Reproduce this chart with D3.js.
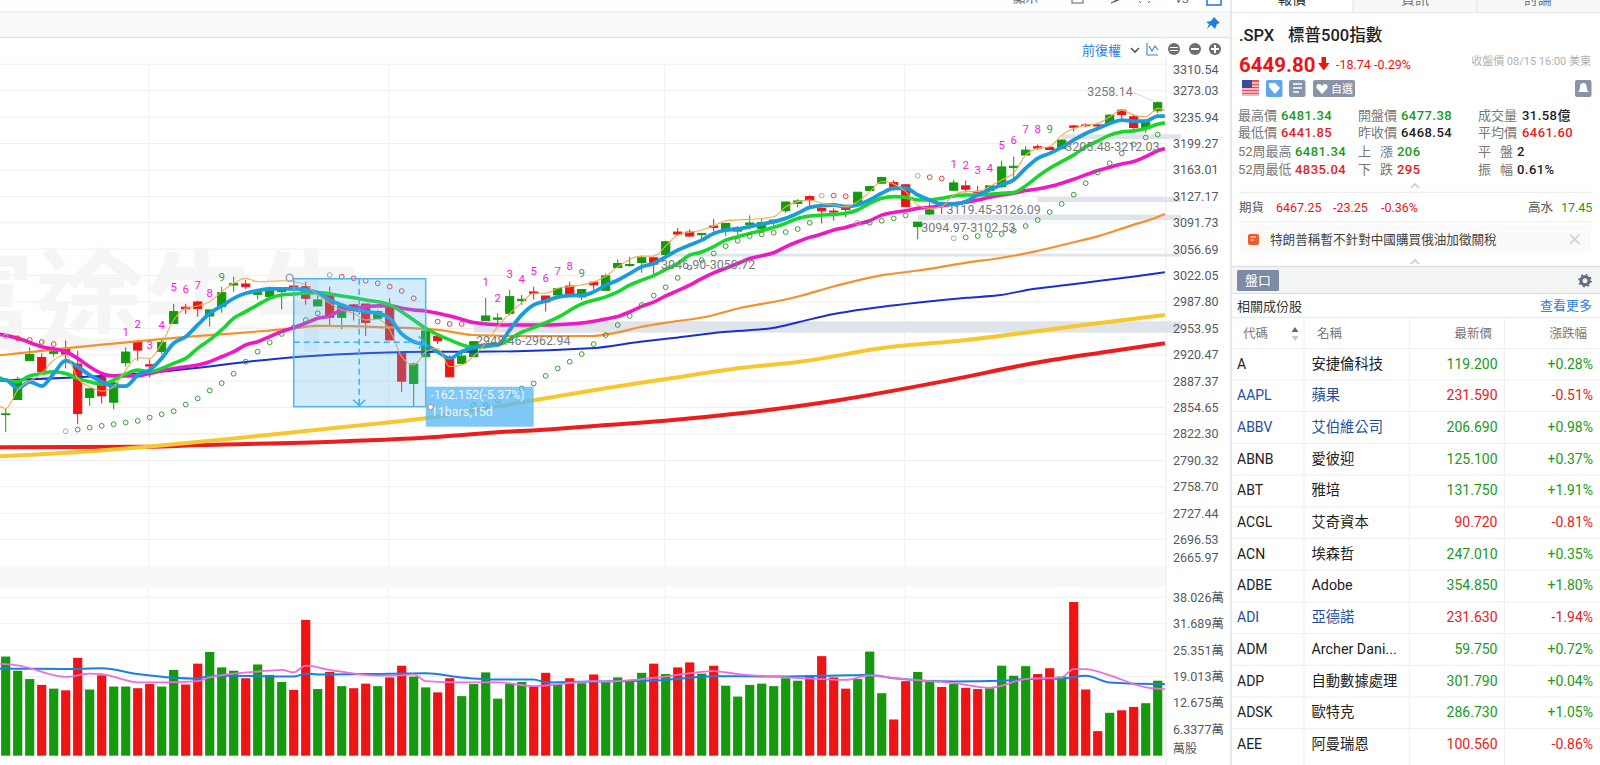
<!DOCTYPE html>
<html>
<head>
<meta charset="utf-8">
<script src="https://cdn.jsdelivr.net/npm/d3@7"></script>
<style>
  html, body { margin: 0; padding: 0; background: #fff; overflow: hidden; }
  text { font-family: Roboto, "Noto Sans CJK TC", sans-serif; }
</style>
</head>
<body>
<svg id="chart" width="1600" height="765"></svg>
<script>
// daily candles, oldest first
const opens = [2846.1,2864.6,2913,2917.1,2922.2,2928.6,2908.8,2867.1,2892,2861.3,2910.4,2936.2,2907.9,2924.7,2960,2981,2987.8,2969.8,2981.8,3009.7,3011,2997.6,2994.7,3001.1,3008.4,3007.6,2982.7,2998.1,2968.1,2984,2985.2,2966.8,2981,2922.2,2884.5,2918,2943.4,2915.9,2909.6,2918,2963.8,2965.5,2973.2,2989.5,3000.7,2995.5,2996.8,3008.4,2994.3,3013.3,3002.9,3032.5,3035.2,3039.1,3045.3,3049.7,3079.3,3079.3,3075.7,3087.3,3082,3080.6,3089,3083.7,3091.7,3107.7,3117.7,3126.8,3110.9,3107.3,3110.9,3117.7,3134.9,3144.9,3145.8,3142.7,3086.8,3103.4,3117.8,3135.4,3141.3,3134,3135,3140.4,3166.2,3183.4,3194.8,3193.9,3192.5,3223.6,3225,3225,3228,3245.7,3236.4,3220,3244.8];
const highs = [2853.5,2892.8,2929.8,2922.2,2929.8,2938.3,2925.6,2877.9,2892,2890.8,2929.8,2939.2,2914.6,2939.2,2985.2,2985.2,2989.5,2977.5,3007.6,3020.5,3016.2,3001.1,3007.6,3005.4,3014,3014,2996.8,3007.6,2985.2,2985.2,2985.2,2977.5,2992.5,2922.2,2910.4,2954,2943.4,2920.1,2927.3,2937,2993,2973.2,3003.3,2996.8,3007.6,2995.5,3005,3014,3003.8,3013.3,3024.6,3043.1,3046.6,3048.4,3045.3,3067.8,3084.6,3082.8,3077.5,3097,3090.8,3087.3,3101.6,3097,3096.2,3119.5,3123.2,3128.6,3112.3,3110.9,3112.3,3132.7,3141.2,3154,3149.4,3144,3092.6,3120,3120,3149.4,3148.5,3141.3,3141.3,3175.7,3181.2,3195.7,3198,3195.7,3204.9,3225,3227.3,3226.4,3239.6,3247.1,3239.6,3232.7,3258.14];
const lows = [2824.8,2864.6,2913,2897,2918,2903.3,2834.2,2856.4,2859.7,2852.6,2905.4,2913,2892,2921.3,2960,2972.4,2969,2956.1,2974.1,3001.1,3004.1,2991.2,2994.7,2978.3,2999.8,2984,2982.7,2956.1,2952.7,2963.8,2944.2,2966.8,2939.2,2874.2,2856.4,2918,2934.1,2892.8,2909.6,2918,2963.8,2959.6,2970.7,2984,2991.2,2975.4,2996.8,2998.1,2990,3003.8,3002.9,3032.5,3033.4,3025.5,3021.1,3049.7,3074,3073.1,3069.5,3080.2,3074,3074.9,3082.8,3083.7,3083.7,3105,3112.3,3112.3,3090.8,3094.4,3098.8,3116.8,3133.5,3144.9,3135,3113.3,3069.5,3102,3103.4,3135.4,3132.2,3129,3135,3138.1,3151.7,3183.4,3190.2,3190.2,3192.5,3215.8,3221.8,3219,3227.1,3232.7,3217.2,3214,3241];
const closes = [2846.9,2887.4,2920.9,2899.6,2924.3,2921.4,2847.3,2877.9,2869.2,2885.3,2923.9,2926.4,2906.3,2936.2,2975.4,2979.2,2979.2,2977.5,2999.8,3011.5,3007.6,2999.8,3003.3,3003.3,3006.7,2992.5,2990.4,2968.1,2982.7,2976.7,2961.3,2975.4,2939.2,2887.4,2908.8,2950.6,2938.3,2892.8,2918.8,2937,2969.8,2967.2,2994.7,2991.2,2999,2987.8,3005,2998.1,3003.8,3009.9,3021.6,3037.8,3036.5,3045.3,3037,3066.4,3076.6,3074,3077.5,3085.5,3090.8,3085.1,3091.3,3092.1,3095.3,3119.5,3120.9,3122.2,3107.7,3106,3109.5,3132.7,3140.3,3152.6,3140.4,3113.3,3092.6,3108.8,3113.3,3145.3,3136.8,3132.2,3141.3,3167.1,3168,3190.2,3193,3191.1,3204,3221.8,3224,3223.6,3238.7,3239.6,3221.4,3228.5,3256.1];
// volume in 萬股
const volumes = [23.8,20.4,18.4,17,16.1,15.7,23.5,15.9,19.3,16.6,16.6,16.2,17.2,16.6,20.6,17.1,22.1,24.9,21.2,20.4,18.6,21.9,19.4,17.7,15.8,32.6,16,20.1,16.7,16.2,17.3,16.7,18.8,21.6,19,16.4,15.2,18.6,14.3,17.2,20,13.7,17.2,17.7,16.6,19.9,17.1,18.6,17.4,19.5,17.7,18.8,18,19.9,22.1,19.6,21.2,22.4,19.7,21.6,16.8,14.2,17,17.3,16.7,18.6,18,19.3,23.9,18.8,16.1,18.4,25,15,8.7,17.9,20.1,18.2,16.5,17.2,16.3,16,16.2,21.6,19.2,21.5,19.6,21,19,36.9,15.9,5.9,10.3,10.9,11.7,12.6,18];

// moving averages as [bar, price] readings
const maThin = [[-1,2861.7],[0,2853.5],[1,2876.2],[3,2897],[4,2913.8],[5,2920.1],[6,2890.8],[7,2880.4],[8,2875],[9,2880.4],[10,2901.2],[11,2916.7],[12,2915.9],[13,2935],[14,2964.6],[15,2979.6],[16,2982.7],[17,2988.2],[18,3001.1],[19,3011.9],[20,3018.4],[21,3014],[23,3015.3],[24,3014],[25,3009.7],[26,2996.8],[27,2986],[28,2977.5],[29,2973.2],[30,2964.6],[31,2965.5],[32,2951.9],[33,2918],[34,2907.5],[35,2924.3],[36,2928.6],[37,2905.4],[38,2907.5],[39,2918.8],[40,2935],[41,2956.1],[42,2973.2],[43,2987],[44,2999],[45,2999],[46,3005.4],[47,3007.6],[48,3009.7],[49,3013.8],[50,3021.1],[51,3033.4],[53,3047.5],[54,3047.5],[55,3060.7],[56,3075.3],[58,3082],[59,3087.3],[60,3094.4],[62,3096.2],[64,3099.8],[65,3113.2],[66,3120],[67,3122.2],[68,3117.7],[69,3115.5],[70,3113.2],[71,3120],[72,3133.5],[73,3147.2],[74,3144],[75,3133.5],[76,3115.5],[77,3111],[78,3113.3],[79,3129],[80,3133.5],[81,3133.5],[82,3140.4],[83,3149.4],[84,3158.5],[85,3183.4],[86,3192.5],[87,3194.8],[88,3210.9],[89,3220],[90,3224.8],[91,3227.1],[92,3236.4],[93,3245.7],[94,3238.7],[95,3236.4],[96,3248.1],[96.6,3245.7]];
const maBlue = [[-1,2888.7],[0,2888.7],[1,2878.3],[2,2886.6],[3,2881.2],[4,2897],[5,2913],[6,2905.4],[7,2894.9],[8,2886.6],[9,2881.2],[10,2881.2],[11,2894.9],[12,2901.2],[13,2915.9],[14,2935],[15,2943.4],[16,2958.3],[17,2973.2],[18,2982.7],[19,2992.5],[20,2999],[21,3002.4],[22,3004.6],[23,3004.6],[24,3004.6],[25,3003.3],[26,2999.8],[27,2990.4],[28,2984],[29,2978.4],[30,2975.4],[31,2973.2],[32,2966.8],[33,2946.8],[34,2937],[35,2932.8],[36,2924.3],[37,2915.9],[38,2924.3],[39,2929.8],[40,2932.8],[41,2933],[42,2951.9],[43,2971.1],[44,2984],[45,2989],[46,2994],[47,2996],[48,2996.4],[49,3000.8],[50,3009.5],[51,3016],[52,3024.6],[53,3033.4],[54,3037.8],[55,3046.6],[56,3055.4],[57,3062],[58,3068.6],[59,3077.5],[60,3082],[61,3083.3],[62,3086.4],[63,3089.9],[64,3093],[65,3097.5],[66,3104.3],[67,3112.3],[68,3114.6],[69,3115.5],[70,3113.2],[71,3115.5],[72,3122.3],[73,3131.3],[74,3138.1],[75,3138.1],[76,3129],[77,3122.3],[78,3116.9],[79,3116.9],[80,3120],[81,3129],[82,3135.9],[83,3142.7],[84,3149.4],[85,3165.3],[86,3178.9],[87,3185.7],[88,3193.9],[89,3204],[90,3213.2],[91,3220],[92,3227.1],[93,3231.8],[94,3230.4],[95,3230.4],[96,3237.3],[96.6,3237.3]];
const maGreen = [[-1,2894.9],[0,2888.7],[1,2886.6],[2,2894],[3,2897],[4,2899.1],[5,2897],[6,2890.8],[7,2886.6],[8,2883.7],[9,2888.7],[10,2896.2],[11,2901.2],[12,2899.1],[13,2903.3],[14,2909.6],[15,2915.9],[16,2928.6],[17,2939.2],[18,2951.9],[19,2966.8],[20,2975.4],[21,2984],[22,2992.5],[23,2996.8],[24,2998.1],[26,2999.8],[28,2995.5],[30,2990.4],[32,2984],[34,2964.6],[35,2954],[37,2939.2],[39,2930],[41,2932.8],[43,2949],[44,2955],[46,2968],[48,2985.2],[49,2990],[50,2994.3],[51,3000.8],[52,3009.5],[53,3016],[54,3022],[55,3030],[56,3037.8],[57,3048.8],[58,3053],[59,3060],[60,3068.6],[61,3073.1],[62,3077.5],[63,3081.1],[64,3085.5],[65,3090.8],[66,3097.5],[67,3100.6],[68,3102],[69,3102.9],[70,3104.3],[71,3108.8],[72,3117.8],[73,3124.5],[74,3126.8],[75,3125.9],[76,3122.3],[77,3122.3],[78,3124.5],[79,3127.7],[80,3129],[81,3129],[82,3129.9],[83,3131.3],[84,3132.2],[85,3141.3],[86,3154],[87,3165.3],[88,3174.4],[89,3183.4],[90,3194.8],[91,3202.5],[92,3210.9],[93,3215.4],[94,3216.8],[95,3220],[96,3226],[96.6,3227.9]];
const maPink = [[-1,2947.6],[1,2941.3],[3,2930.7],[5,2924.3],[6,2915.9],[7,2905.4],[8,2897],[9,2894],[11,2894],[12,2897],[13,2900.4],[14,2903.3],[15,2905.4],[16,2907.5],[17,2911.7],[18,2918],[19,2924.3],[20,2932.8],[21,2937],[22,2943.4],[23,2949.8],[24,2954.9],[25,2960.4],[26,2966.8],[27,2969.8],[28,2977.5],[29,2979.6],[30,2981.8],[31,2982.7],[32,2983.1],[33,2979.6],[34,2977.5],[35,2976.2],[36,2973.2],[37,2969.8],[38,2965.5],[39,2961.3],[40,2959.6],[41,2958.6],[43,2958.2],[45,2958.2],[47,2959.5],[48,2960.8],[49,2963],[50,2966],[51,2969],[52,2975],[53,2982],[54,2987.5],[55,2995.6],[56,3002.3],[57,3009.7],[58,3018.1],[59,3025.5],[60,3031.5],[61,3037.8],[62,3044.4],[63,3047.9],[64,3051.9],[65,3059.8],[66,3066.4],[67,3072.2],[68,3076.6],[69,3082],[70,3085.5],[71,3089.9],[72,3094.4],[73,3101.9],[74,3105.5],[75,3107.8],[76,3110.9],[77,3112.3],[78,3114.6],[79,3116.9],[80,3119.1],[81,3122.3],[82,3125.9],[83,3129],[84,3131.3],[85,3134.9],[86,3137.2],[87,3140.4],[88,3144.9],[89,3150.3],[90,3156.2],[91,3162.1],[92,3166.6],[93,3171.2],[94,3174.4],[95,3181.2],[96,3189.3],[96.6,3192.5]];
const maOrange = [[-1,2919],[12,2939],[24,2954],[26,2957],[31,2955.6],[36.2,2951.8],[38.9,2945.5],[44.5,2944.2],[48.7,2944.2],[50.9,2948.4],[52.9,2955.7],[55.6,2962.4],[58.4,2968.8],[61.2,2980],[64.8,2990.3],[66.2,2995.5],[68.9,3007.5],[73.1,3022.6],[75.9,3028.3],[80.1,3039],[82.9,3045],[85.6,3053],[88.4,3063.5],[91.2,3074.5],[93.9,3088.6],[95.3,3095.3],[96.6,3103.4]];
const maNavy = [[-1,2888],[12,2898],[24.5,2918],[36.2,2924.3],[38.9,2924.3],[48.7,2928.6],[52.9,2937],[55.6,2941.7],[59.8,2949.3],[63.9,2954.4],[66.2,2962.4],[68.9,2971.9],[73.1,2981.7],[75.9,2986.8],[80.1,2993.2],[82.9,2996.7],[85.6,3004.5],[88.4,3009.7],[91.2,3015.3],[93.9,3020.5],[96.6,3026.2]];
const maYellow = [[-1,2795],[7.9,2802.3],[11.8,2806.8],[16.2,2812.9],[21.8,2821],[27.3,2829.5],[35.1,2841.8],[44.5,2864.9],[50.1,2878.9],[55.6,2891.3],[61.2,2903.8],[66.2,2911.7],[73.1,2929],[80.1,2939.2],[85.6,2949.7],[89.8,2958.2],[96.6,2971]];
const maRed = [[-1,2806],[11.8,2806.8],[16.2,2808.8],[27.3,2812.9],[36.2,2818.9],[41.2,2824.6],[44.5,2827],[50.1,2833.2],[55.6,2839.3],[61.2,2847.6],[69.5,2864],[78.7,2888.8],[85.6,2909.7],[91.2,2923],[96.6,2935]];
const volBlue = [[-1,20.9],[0,20.9],[5,20.8],[8,21],[11,19.6],[14,18.7],[16,18.5],[17,19.2],[19,19.2],[24,19],[25,19.7],[26,19.5],[32,19.7],[35,19.8],[38,18.8],[41,18.3],[44,18.3],[45,17.6],[49,17.8],[55,18.2],[59,19.1],[64,19],[72,19.4],[74,18.6],[79,17.8],[83,18],[85,18.4],[88,18.5],[90,19.2],[92,17.6],[96,17.2],[96.6,17.2]];
const volPink = [[-1,22.1],[0,22],[1,21.7],[5,18.9],[7,19.7],[8,19.6],[11,17.6],[13,17.6],[16,17.9],[17,18.8],[22,20.4],[23,20.6],[24,20],[25,21.6],[27,20.6],[31,19.2],[33,19.3],[34,19.5],[35,17.9],[38,17.6],[41,17.6],[44,16.7],[49,17.9],[50,17.8],[55,19],[59,20.3],[61,19.6],[64,19],[68,18.4],[70,18.2],[72,19.3],[74,18.6],[79,17.4],[82,16.3],[85,18.4],[88,18.8],[89,20.8],[90,20.8],[92,19.3],[95,16.4],[96,16.1],[96.6,16]];

// parabolic SAR dots: [bar, price]
const sarGreen = [[6,2827.6],[7,2830],[8,2832.2],[9,2834.2],[10,2836.3],[11,2838.3],[12,2842.4],[13,2846.5],[14,2850.2],[15,2858.4],[16,2865.9],[17,2875.8],[18,2884.9],[19,2896.6],[20,2911.7],[21,2924.3],[22,2936.2],[23,2946.8],[24,2955.3],[25,2964.6],[26,2973.2],[39,2857.6],[40,2857.6],[41,2863.8],[42,2872.1],[43,2878.3],[44,2884.5],[45,2894],[46,2903.3],[47,2911.7],[48,2921.3],[49,2934],[50,2945.4],[51,2958.3],[52,2969.8],[53,2983.8],[54,2996],[55,3006.8],[56,3019],[57,3032.5],[58,3042.2],[59,3051],[60,3060.7],[61,3067.7],[62,3074],[63,3076.2],[64,3078.4],[65,3079.3],[66,3083.3],[67,3091.7],[72,3091.7],[73,3094.4],[74,3097.5],[75,3101.5],[80,3072.2],[81,3074],[82,3075.3],[83,3076.7],[84,3081.1],[85,3087.3],[86,3095.3],[87,3106],[88,3116.9],[89,3129.4],[90,3144.9],[91,3159.4],[92,3172.1],[93,3185.7],[94,3197.9],[95,3207.6],[96,3211.7]];
const sarRed = [[1,2941.3],[2,2939.2],[3,2936.6],[4,2934],[28,3020.5],[29,3018.4],[30,3015.3],[31,3011.9],[32,3007.6],[33,3002],[34,2992.5],[36,2962.6],[37,2959.6],[38,2959.6],[69,3128.1],[70,3127.2],[77,3153.1],[78,3151.3]];
const sarGrey = [[0,2943.4],[5,2825.6],[27,3022.7],[68,3128.1],[71,3091.7],[76,3154.9],[79,3071]];

// TD sequential counts
const tdBars = [10,11,12,13,14,15,16,17,18,40,41,42,43,44,45,46,47,48,79,80,81,82,83,84,85,86,87];
const tdLevels = [2949.8,2959.6,2932.8,2958.3,3006.7,3004.1,3009.7,2999.8,3020.5,3013.1,2992.5,3023.5,3017.5,3027.8,3019.3,3027.8,3034.2,3025.7,3171.2,3169.8,3163,3165.3,3197,3204,3219.1,3219.1,3220];

// support / resistance bands
const bandLows = [3205.48,3119.45,3094.97,3046.90,2948.46];
const bandHighs = [3212.03,3126.09,3102.53,3050.72,2962.94];
const bandFromBars = [88,86,76,54,39];
const bandLabelBars = [88.3,78.4,76.3,54.6,39.2];

const monthBars = [12,32,55,75];
const priceTicks = [3310.54,3273.03,3235.94,3199.27,3163.01,3127.17,3091.73,3056.69,3022.05,2987.80,2953.95,2920.47,2887.37,2854.65,2822.30,2790.32,2758.70,2727.44,2696.53,2665.97];
const volumeTicks = [6.3377,12.675,19.013,25.351,31.689,38.026];

// measure tool
const measureBars = [24,35];
const measureTop = 3017.9;
const measureChange = -162.152;

// right hand table
const stockCodes = ['A','AAPL','ABBV','ABNB','ABT','ACGL','ACN','ADBE','ADI','ADM','ADP','ADSK','AEE'];
const stockNames = ['安捷倫科技','蘋果','艾伯維公司','愛彼迎','雅培','艾奇資本','埃森哲','Adobe','亞德諾','Archer Dani...','自動數據處理','歐特克','阿曼瑞恩'];
const stockPrices = ['119.200','231.590','206.690','125.100','131.750','90.720','247.010','354.850','231.630','59.750','301.790','286.730','100.560'];
const stockChanges = [0.28,-0.51,0.98,0.37,1.91,-0.81,0.35,1.80,-1.94,0.72,0.04,1.05,-0.86];
const stockLinked = ['AAPL','ABBV','ADI'];

const GREEN = '#149a0c', RED = '#ee1414';
const plotRight = 1166;

const svg = d3.select('#chart');

const x = d3.scaleLinear().domain([0, 96]).range([5.7, 1157.7]);
const y = d3.scaleLog().domain([2665.97, 3273.03]).range([566, 90.7]);
const yVol = d3.scaleLinear().domain([0, 38.026]).range([755.7, 597.3]);
const barW = 9.2;

svg.append('defs').append('clipPath').attr('id', 'plot')
  .append('rect').attr('x', 0).attr('y', 38).attr('width', plotRight).attr('height', 727);

// background panels
svg.append('rect').attr('x', 0).attr('y', 12).attr('width', 1231).attr('height', 25).attr('fill', '#f8fafa');
svg.append('line').attr('x1', 0).attr('x2', 1231).attr('y1', 12).attr('y2', 12).attr('stroke', '#e9ecec');
svg.append('line').attr('x1', 0).attr('x2', 1231).attr('y1', 37.5).attr('y2', 37.5).attr('stroke', '#e2e5e6').attr('stroke-width', 1.5);
svg.append('rect').attr('x', 0).attr('y', 566).attr('width', plotRight).attr('height', 21).attr('fill', '#f7f9f9');
svg.append('line').attr('x1', plotRight).attr('x2', plotRight).attr('y1', 38).attr('y2', 765).attr('stroke', '#e8eaea');

const under = svg.append('g').attr('clip-path', 'url(#plot)');

// grid
under.append('g').selectAll('line').data(priceTicks.slice(0, 19)).join('line')
  .attr('x1', 0).attr('x2', plotRight)
  .attr('y1', d => y(d)).attr('y2', d => y(d))
  .attr('stroke', '#eeeeee');
under.append('g').selectAll('line').data(volumeTicks).join('line')
  .attr('x1', 0).attr('x2', plotRight)
  .attr('y1', d => yVol(d)).attr('y2', d => yVol(d))
  .attr('stroke', '#f1f1f1');
under.append('g').selectAll('line').data(monthBars).join('line')
  .attr('x1', d => x(d) - 1).attr('x2', d => x(d) - 1)
  .attr('y1', 64).attr('y2', 566)
  .attr('stroke', '#f0f0f0');
under.append('g').selectAll('line').data(monthBars).join('line')
  .attr('x1', d => x(d) - 1).attr('x2', d => x(d) - 1)
  .attr('y1', 587).attr('y2', 765)
  .attr('stroke', '#f3f3f3');

// watermark
under.append('text').attr('x', -75).attr('y', 342)
  .attr('font-size', 110).attr('font-weight', 700).attr('fill', '#f5f5f5')
  .text('富途牛牛');

// bands run past the plot, over the axis gutter
svg.append('g').selectAll('rect').data(bandLows).join('rect')
  .attr('x', (d, i) => x(bandFromBars[i]))
  .attr('y', (d, i) => y(bandHighs[i]))
  .attr('width', (d, i) => 1181 - x(bandFromBars[i]))
  .attr('height', (d, i) => y(d) - y(bandHighs[i]))
  .attr('fill', '#dfe4ea');

const plot = svg.append('g').attr('clip-path', 'url(#plot)');

// volume
plot.append('g').selectAll('rect').data(volumes).join('rect')
  .attr('x', (d, i) => x(i) - barW / 2)
  .attr('y', d => yVol(d))
  .attr('width', barW)
  .attr('height', d => yVol(0) - yVol(d))
  .attr('fill', (d, i) => closes[i] >= opens[i] ? GREEN : RED);

// candles
const candles = plot.append('g').selectAll('g').data(opens).join('g')
  .attr('stroke', (d, i) => closes[i] >= opens[i] ? GREEN : RED)
  .attr('fill', (d, i) => closes[i] >= opens[i] ? GREEN : RED);
candles.append('line')
  .attr('x1', (d, i) => x(i)).attr('x2', (d, i) => x(i))
  .attr('y1', (d, i) => y(highs[i])).attr('y2', (d, i) => y(lows[i]));
candles.append('rect')
  .attr('x', (d, i) => x(i) - barW / 2 + 0.5)
  .attr('y', (d, i) => Math.min(y(opens[i]), y(closes[i])))
  .attr('width', barW - 1)
  .attr('height', (d, i) => Math.max(0.6, Math.abs(y(opens[i]) - y(closes[i]))));

// moving averages
const priceLine = d3.line().x(d => x(d[0])).y(d => y(d[1])).curve(d3.curveMonotoneX);
const volLine = d3.line().x(d => x(d[0])).y(d => yVol(d[1])).curve(d3.curveMonotoneX);

const drawLine = (gen, pts, color, w) => plot.append('path')
  .attr('d', gen(pts))
  .attr('fill', 'none')
  .attr('stroke', color)
  .attr('stroke-width', w)
  .attr('stroke-linejoin', 'round');

drawLine(priceLine, maRed, '#ee1c1c', 4);
drawLine(priceLine, maYellow, '#f6c72f', 4);
drawLine(priceLine, maNavy, '#1a2fd0', 2);
drawLine(priceLine, maOrange, '#f6902c', 2.2);
drawLine(priceLine, maPink, '#ee18c4', 3.6);
drawLine(priceLine, maGreen, '#19d52c', 3.6);
drawLine(priceLine, maBlue, '#1a9bdc', 3.8);
drawLine(priceLine, maThin, '#f0ab4e', 1.1);
drawLine(volLine, volBlue, '#1c7fe0', 2);
drawLine(volLine, volPink, '#ec70d8', 1.8);

// SAR dots
const drawDots = (pts, color) => plot.append('g').selectAll('circle').data(pts).join('circle')
  .attr('cx', d => x(d[0])).attr('cy', d => y(d[1])).attr('r', 2.4)
  .attr('fill', 'none').attr('stroke', color).attr('stroke-width', 1);
drawDots(sarGreen, '#3a9a3a');
drawDots(sarRed, '#dd4040');
drawDots(sarGrey, '#a9a9a9');

// TD numbers, the ninth count is green
plot.append('g').selectAll('text').data(tdBars).join('text')
  .attr('x', d => x(d))
  .attr('y', (d, i) => y(tdLevels[i]))
  .attr('dy', '0.35em')
  .attr('text-anchor', 'middle')
  .attr('font-size', 11.5)
  .attr('fill', (d, i) => i % 9 === 8 ? '#3aa03a' : '#ee22dd')
  .text((d, i) => (i % 9) + 1);

// band labels
svg.append('g').selectAll('text').data(bandLows).join('text')
  .attr('x', (d, i) => x(bandLabelBars[i]))
  .attr('y', (d, i) => y(d) + 12)
  .attr('font-size', 12.5)
  .attr('fill', '#77797c')
  .text((d, i) => `${d.toFixed(2)}-${bandHighs[i].toFixed(2)}`);

// high marker
const lastHigh = highs[96];
svg.append('line')
  .attr('x1', x(96) - 25).attr('y1', y(lastHigh) - 9)
  .attr('x2', x(96) - 4).attr('y2', y(lastHigh))
  .attr('stroke', '#d9d9d9');
svg.append('text').attr('x', x(96) - 25).attr('y', y(lastHigh) - 5)
  .attr('text-anchor', 'end').attr('font-size', 12.5).attr('fill', '#77797c')
  .text(lastHigh.toFixed(2));

// measure tool
const mx0 = x(measureBars[0]), mx1 = x(measureBars[1]);
const my0 = y(measureTop), my1 = y(measureTop + measureChange);
const mxm = (mx0 + mx1) / 2 - 0.5, mym = (my0 + my1) / 2 - 0.5;
const tool = svg.append('g');
tool.append('rect')
  .attr('x', mx0).attr('y', my0).attr('width', mx1 - mx0).attr('height', my1 - my0)
  .attr('fill', 'rgba(90,185,240,0.27)').attr('stroke', '#52b6ee').attr('stroke-width', 1.5);
tool.append('line').attr('x1', mxm).attr('x2', mxm).attr('y1', my0).attr('y2', my1)
  .attr('stroke', '#3fb0f0').attr('stroke-width', 1.5).attr('stroke-dasharray', '6 4');
tool.append('line').attr('x1', mx0).attr('x2', mx1).attr('y1', mym).attr('y2', mym)
  .attr('stroke', '#3fb0f0').attr('stroke-width', 1.5).attr('stroke-dasharray', '6 4');
tool.append('path').attr('d', d3.line()([[mxm - 6, my1 - 7], [mxm, my1 - 1], [mxm + 6, my1 - 7]]))
  .attr('fill', 'none').attr('stroke', '#3fb0f0').attr('stroke-width', 1.5);
tool.append('path').attr('d', d3.line()([[mx1 - 7, mym - 6], [mx1 - 1, mym], [mx1 - 7, mym + 6]]))
  .attr('fill', 'none').attr('stroke', '#3fb0f0').attr('stroke-width', 1.5);
tool.append('circle').attr('cx', mx0 - 4).attr('cy', my0 - 1).attr('r', 3.5)
  .attr('fill', 'none').attr('stroke', '#a3a6ad').attr('stroke-width', 1.6);
tool.append('rect').attr('x', mx1).attr('y', 386.7).attr('width', 108).attr('height', 40)
  .attr('fill', 'rgba(95,185,245,0.8)');
tool.append('text').attr('x', mx1 + 4.5).attr('y', 398.5).attr('font-size', 12.5).attr('fill', '#eef8ff')
  .text(`${measureChange}(-5.37%)`);
tool.append('text').attr('x', mx1 + 5).attr('y', 415.5).attr('font-size', 12.5).attr('fill', '#eef8ff')
  .text('11bars,15d');
tool.append('circle').attr('cx', mx1 + 5).attr('cy', 407).attr('r', 2.8)
  .attr('fill', '#fff').attr('stroke', '#a3a6ad').attr('stroke-width', 1.4);

// axes
const priceAxis = svg.append('g').attr('transform', `translate(${plotRight},0)`)
  .call(d3.axisRight(y).tickValues(priceTicks).tickFormat(d3.format('.2f')).tickSize(0).tickPadding(7));
priceAxis.select('.domain').remove();
priceAxis.selectAll('text').attr('font-size', 12.5).attr('fill', '#555a5e')
  .attr('font-family', 'Roboto, sans-serif')
  .attr('dy', d => d === 3310.54 ? '0.75em' : d === 2665.97 ? '-0.4em' : '0.32em');

const volAxis = svg.append('g').attr('transform', `translate(${plotRight},0)`)
  .call(d3.axisRight(yVol).tickValues(volumeTicks).tickFormat(d => `${d}萬`).tickSize(0).tickPadding(7));
volAxis.select('.domain').remove();
volAxis.selectAll('text').attr('font-size', 12.5).attr('fill', '#555a5e')
  .attr('font-family', 'Roboto, "Noto Sans CJK TC", sans-serif');
svg.append('text').attr('x', 1173).attr('y', 753).attr('font-size', 12).attr('fill', '#555a5e').text('萬股');

// toolbar bits
const txt = (px, py, str, size, color, anchor, weight, spacing) => svg.append('text')
  .attr('x', px).attr('y', py).attr('font-size', size).attr('fill', color)
  .attr('text-anchor', anchor || 'start').attr('font-weight', weight || 400)
  .attr('letter-spacing', spacing || 0).text(str);

txt(1013, 3, '顯示', 12.5, '#666');
svg.append('rect').attr('x', 1072).attr('y', -6).attr('width', 11).attr('height', 9).attr('fill', 'none').attr('stroke', '#777').attr('stroke-width', 1.2);
svg.append('path').attr('d', 'M1111 3 L1120 -2 L1119 0 Z').attr('fill', '#666').attr('stroke', '#666');
svg.append('path').attr('d', 'M1139 1 L1141 3 M1150 1 L1148 3').attr('stroke', '#666');
txt(1175, 3, 'VS', 11, '#666');
svg.append('rect').attr('x', 1207).attr('y', -4).attr('width', 14).attr('height', 9).attr('fill', 'none').attr('stroke', '#2b7be0').attr('stroke-width', 1.6);
svg.append('path').attr('d', 'M1214 17 L1220 23 L1217 24 L1215 29 L1211 25 L1207 29 L1209 24 L1206 22 L1211 21 Z').attr('fill', '#1f7fe0');
svg.append('rect').attr('x', 1078).attr('y', 40).attr('width', 90).attr('height', 20).attr('fill', '#fff').attr('opacity', 0.8);
txt(1082, 55, '前復權', 13, '#2f80e0');
svg.append('path').attr('d', 'M1131 48 L1135 52 L1139 48').attr('fill', 'none').attr('stroke', '#555').attr('stroke-width', 1.6);
svg.append('path').attr('d', 'M1147 43 V55 H1158 M1149 46 L1152 51 L1155 46 L1158 50').attr('fill', 'none').attr('stroke', '#2f80e0').attr('stroke-width', 1.1);
[[1174, 'eq'], [1195, 'minus'], [1215, 'plus']].forEach(([cx, kind]) => {
  svg.append('circle').attr('cx', cx).attr('cy', 49).attr('r', 6).attr('fill', '#6a6f76');
  if (kind === 'eq') svg.append('path').attr('d', `M${cx - 4} 47.5 H${cx + 4} M${cx - 4} 50.5 H${cx + 4}`).attr('stroke', '#fff').attr('stroke-width', 1.2);
  if (kind === 'minus') svg.append('path').attr('d', `M${cx - 4} 49 H${cx + 4}`).attr('stroke', '#fff').attr('stroke-width', 2);
  if (kind === 'plus') svg.append('path').attr('d', `M${cx - 4} 49 H${cx + 4} M${cx} 45 V53`).attr('stroke', '#fff').attr('stroke-width', 2);
});

// side panel
svg.append('line').attr('x1', 1231).attr('x2', 1231).attr('y1', 0).attr('y2', 765).attr('stroke', '#e6e8e9').attr('stroke-width', 2);
svg.append('rect').attr('x', 1353).attr('y', 0).attr('width', 247).attr('height', 12).attr('fill', '#f6f7f7');
svg.append('line').attr('x1', 1232).attr('x2', 1600).attr('y1', 12.5).attr('y2', 12.5).attr('stroke', '#e3e5e6').attr('stroke-width', 1.2);
svg.append('path').attr('d', 'M1353 0 V12 M1477 0 V12').attr('stroke', '#dfe1e2');
txt(1292, 4, '報價', 14, '#333', 'middle');
txt(1415, 4, '資訊', 14, '#777', 'middle');
txt(1538, 4, '討論', 14, '#777', 'middle');

txt(1239, 41, '.SPX', 16.5, '#222', 'start', 500);
txt(1288, 41, '標普500指數', 16.5, '#222', 'start', 500);
txt(1239, 71.5, '6449.80', 20.5, RED, 'start', 700);
svg.append('path').attr('d', 'M1321.5 57 H1326 V63 H1329.5 L1323.8 70.5 L1318 63 H1321.5 Z').attr('fill', RED);
txt(1336, 69, '-18.74', 12.5, RED);
txt(1374, 69, '-0.29%', 12.5, RED);
txt(1591, 65, '收盤價 08/15 16:00 美東', 11, '#aeb1b4', 'end');

// flag + icons
svg.append('rect').attr('x', 1242).attr('y', 80).attr('width', 17).attr('height', 16).attr('fill', '#e8505a');
[83, 86, 89, 92, 95].forEach(py => svg.append('line').attr('x1', 1242).attr('x2', 1259).attr('y1', py).attr('y2', py).attr('stroke', '#fff').attr('stroke-width', 1.2));
svg.append('rect').attr('x', 1242).attr('y', 80).attr('width', 10).attr('height', 8).attr('fill', '#3b4b9c');
svg.append('rect').attr('x', 1266).attr('y', 80).attr('width', 16.5).attr('height', 17).attr('rx', 2).attr('fill', '#5fa6ee');
svg.append('path').attr('d', 'M1269 83 H1275 L1280 88 L1275 94 L1269 87 Z').attr('fill', '#fff');
svg.append('rect').attr('x', 1289).attr('y', 80).attr('width', 16.5).attr('height', 17).attr('rx', 2).attr('fill', '#8a94a8');
svg.append('path').attr('d', 'M1293 84 H1302 M1293 88 H1302 M1293 92 H1299').attr('stroke', '#fff').attr('stroke-width', 1.4);
svg.append('rect').attr('x', 1313).attr('y', 80).attr('width', 42).attr('height', 17).attr('rx', 2).attr('fill', '#8a94a8');
svg.append('path').attr('d', 'M1322 94 L1316.5 88 Q1316 84 1319 84 Q1321 84 1322 86 Q1323 84 1325 84 Q1328 84 1327.5 88 Z').attr('fill', '#fff');
txt(1331, 93, '自選', 11, '#fff');
svg.append('rect').attr('x', 1575).attr('y', 80).attr('width', 16.5).attr('height', 17).attr('rx', 2).attr('fill', '#8a94a8');
svg.append('path').attr('d', 'M1578 92 Q1580 90 1580 87 Q1580 83 1583.3 83 Q1586.6 83 1586.6 87 Q1586.6 90 1588.6 92 Z').attr('fill', '#fff');

// quote stats
const numColor = { g: '#1a9a1a', r: '#e22222', k: '#222' };
const statRows = [
  [1238, 119.5, '最高價', 1281, '6481.34', 'g'],
  [1238, 137, '最低價', 1281, '6441.85', 'r'],
  [1238, 156, '52周最高', 1295, '6481.34', 'g'],
  [1238, 174, '52周最低', 1295, '4835.04', 'r'],
  [1358, 119.5, '開盤價', 1401, '6477.38', 'g'],
  [1358, 137, '昨收價', 1401, '6468.54', 'k'],
  [1358, 156, '上', 1397, '206', 'g'],
  [1358, 174, '下', 1397, '295', 'r'],
  [1478, 119.5, '成交量', 1522, '31.58億', 'k'],
  [1478, 137, '平均價', 1522, '6461.60', 'r'],
  [1478, 156, '平', 1517, '2', 'k'],
  [1478, 174, '振', 1517, '0.61%', 'k']
];
statRows.forEach(r => {
  txt(r[0], r[1], r[2], 13, '#777');
  txt(r[3], r[1], r[4], 13, numColor[r[5]], 'start', 500, 0.45);
});
txt(1380, 156, '漲', 13, '#777');
txt(1380, 174, '跌', 13, '#777');
txt(1500, 156, '盤', 13, '#777');
txt(1500, 174, '幅', 13, '#777');

const caret = py => svg.append('path').attr('d', `M1411 ${py + 2} L1415 ${py - 2} L1419 ${py + 2}`).attr('fill', 'none').attr('stroke', '#ccc').attr('stroke-width', 1.6);
caret(186);
svg.append('line').attr('x1', 1239).attr('x2', 1592).attr('y1', 192.3).attr('y2', 192.3).attr('stroke', '#e9ebec');
txt(1239, 212, '期貨', 12.5, '#555');
txt(1276, 212, '6467.25', 12.5, RED);
txt(1333, 212, '-23.25', 12.5, RED);
txt(1381, 212, '-0.36%', 12.5, RED);
txt(1528, 212, '高水', 12.5, '#555');
txt(1561, 212, '17.45', 12.5, '#1a9a1a');
svg.append('line').attr('x1', 1239).attr('x2', 1592).attr('y1', 221.7).attr('y2', 221.7).attr('stroke', '#eeeff0');
svg.append('rect').attr('x', 1240).attr('y', 225).attr('width', 351).attr('height', 28).attr('fill', '#fafafa');
svg.append('rect').attr('x', 1248).attr('y', 234).attr('width', 11).attr('height', 11).attr('rx', 2).attr('fill', '#f0592b');
svg.append('path').attr('d', 'M1250.5 237 H1256 M1250.5 240 H1254').attr('stroke', '#fff').attr('stroke-width', 1.2);
txt(1270, 244, '特朗普稱暫不針對中國購買俄油加徵關稅', 12.6, '#444');
svg.append('path').attr('d', 'M1570 234.5 L1579.5 244 M1579.5 234.5 L1570 244').attr('stroke', '#c9cbcd').attr('stroke-width', 1.4);
caret(262);

svg.append('rect').attr('x', 1232).attr('y', 266).attr('width', 368).attr('height', 27.5).attr('fill', '#f3f4f4');
svg.append('line').attr('x1', 1232).attr('x2', 1600).attr('y1', 266.5).attr('y2', 266.5).attr('stroke', '#dfe1e2').attr('stroke-width', 1.4);
svg.append('line').attr('x1', 1232).attr('x2', 1600).attr('y1', 293.5).attr('y2', 293.5).attr('stroke', '#dcdee0').attr('stroke-width', 1.2);
svg.append('rect').attr('x', 1237).attr('y', 270).attr('width', 42).attr('height', 21).attr('rx', 1.5).attr('fill', '#7c8aa6');
txt(1258, 285, '盤口', 13, '#fff', 'middle');
svg.append('circle').attr('cx', 1585).attr('cy', 280.7).attr('r', 4).attr('fill', 'none').attr('stroke', '#5f6c7e').attr('stroke-width', 3);
svg.append('circle').attr('cx', 1585).attr('cy', 280.7).attr('r', 6).attr('fill', 'none').attr('stroke', '#5f6c7e').attr('stroke-width', 1.6).attr('stroke-dasharray', '2 2.7');

txt(1237, 310.5, '相關成份股', 13, '#333');
txt(1592, 310, '查看更多', 13, '#2f80e0', 'end');
svg.append('line').attr('x1', 1232).attr('x2', 1600).attr('y1', 317.3).attr('y2', 317.3).attr('stroke', '#e6e8e9');

// stock table
const rowH = 31.7, rowTop = 348;
txt(1243, 338, '代碼', 12.5, '#777');
txt(1317, 338, '名稱', 12.5, '#777');
txt(1492, 338, '最新價', 12.5, '#777', 'end');
txt(1587, 338, '漲跌幅', 12.5, '#777', 'end');
svg.append('path').attr('d', 'M1295 327 L1298.5 332 H1291.5 Z').attr('fill', '#666');
svg.append('path').attr('d', 'M1295 341 L1298.5 336 H1291.5 Z').attr('fill', '#c6c8ca');

[1304, 1409.3, 1504.3].forEach(vx => svg.append('line')
  .attr('x1', vx).attr('x2', vx).attr('y1', 317.3).attr('y2', 765).attr('stroke', '#eceeef'));

const rows = svg.append('g').selectAll('g').data(stockCodes).join('g')
  .attr('transform', (d, i) => `translate(0,${rowTop + i * rowH})`);
rows.append('line').attr('x1', 1232).attr('x2', 1600).attr('y1', 0.3).attr('y2', 0.3).attr('stroke', '#eceeef');
rows.append('text').attr('x', 1237).attr('y', 20.5).attr('font-size', 14)
  .attr('fill', d => stockLinked.includes(d) ? '#1f4f9e' : '#222').text(d => d);
rows.append('text').attr('x', 1311.5).attr('y', 20.5).attr('font-size', 14.3)
  .attr('fill', d => stockLinked.includes(d) ? '#1f4f9e' : '#222').text((d, i) => stockNames[i]);
rows.append('text').attr('x', 1497.5).attr('y', 20.5).attr('font-size', 14).attr('text-anchor', 'end')
  .attr('fill', (d, i) => stockChanges[i] >= 0 ? '#1a9a1a' : '#e22222').text((d, i) => stockPrices[i]);
rows.append('text').attr('x', 1593).attr('y', 20.5).attr('font-size', 14).attr('text-anchor', 'end')
  .attr('fill', (d, i) => stockChanges[i] >= 0 ? '#1a9a1a' : '#e22222')
  .text((d, i) => `${stockChanges[i] >= 0 ? '+' : ''}${stockChanges[i].toFixed(2)}%`);
</script>
</body>
</html>
